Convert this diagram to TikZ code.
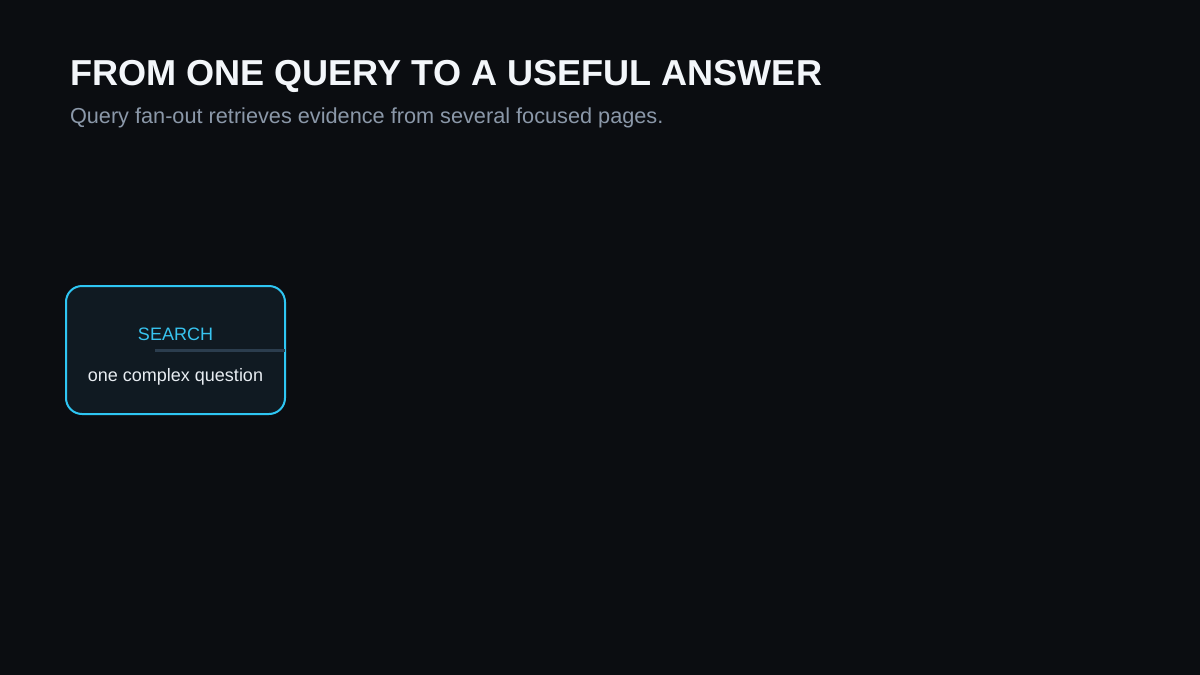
\documentclass[tikz,border=0pt]{standalone}
\usepackage{fontspec}
\setmainfont{Liberation Sans}
\definecolor{bg}{HTML}{0B0D11}
\definecolor{titlec}{HTML}{F3F6FA}
\definecolor{subc}{HTML}{8B98A9}
\definecolor{boxfill}{HTML}{101A22}
\definecolor{boxline}{HTML}{2EC6F3}
\definecolor{labelc}{HTML}{38C4F0}
\definecolor{rulec}{HTML}{2B3D4E}
\definecolor{bodyc}{HTML}{E8EDF2}
\tikzset{
  txt/.style={inner sep=0pt, outer sep=0pt, anchor=base},
  titletxt/.style={txt, anchor=base west, text=titlec, font=\fontsize{36.1pt}{40pt}\selectfont\bfseries},
  subtxt/.style={txt, anchor=base west, text=subc, font=\fontsize{21.7pt}{26pt}\selectfont},
  stagebox/.style={draw=boxline, line width=2pt, fill=boxfill, rounded corners=16pt,
    minimum width=219pt, minimum height=128pt, inner sep=0pt, outer sep=0pt},
  kindtxt/.style={txt, text=labelc, font=\fontsize{18pt}{22pt}\selectfont},
  bodytxt/.style={txt, text=bodyc, font=\fontsize{18pt}{22pt}\selectfont},
  rulerline/.style={draw=rulec, line width=3pt}
}
\begin{document}
\begin{tikzpicture}[x=1pt,y=1pt]
  \fill[bg] (0,0) rectangle (1200,-675);
  \useasboundingbox (0,0) rectangle (1200,-675);
  \node[titletxt] (title) at (70,-85.5) {FROM ONE QUERY TO A USEFUL ANSWER};
  \node[subtxt] (subtitle) at (70,-123) {Query fan-out retrieves evidence from several focused pages.};
  \node[stagebox] (search) at (175.5,-350) {};
  \node[kindtxt] (searchkind) at (175.5,-340) {SEARCH};
  \coordinate (rulestart) at (155,-350.5);
  \draw[rulerline] (rulestart) -- (rulestart -| search.east);
  \node[bodytxt] (searchbody) at (175.5,-381) {one complex question};
\end{tikzpicture}
\end{document}
